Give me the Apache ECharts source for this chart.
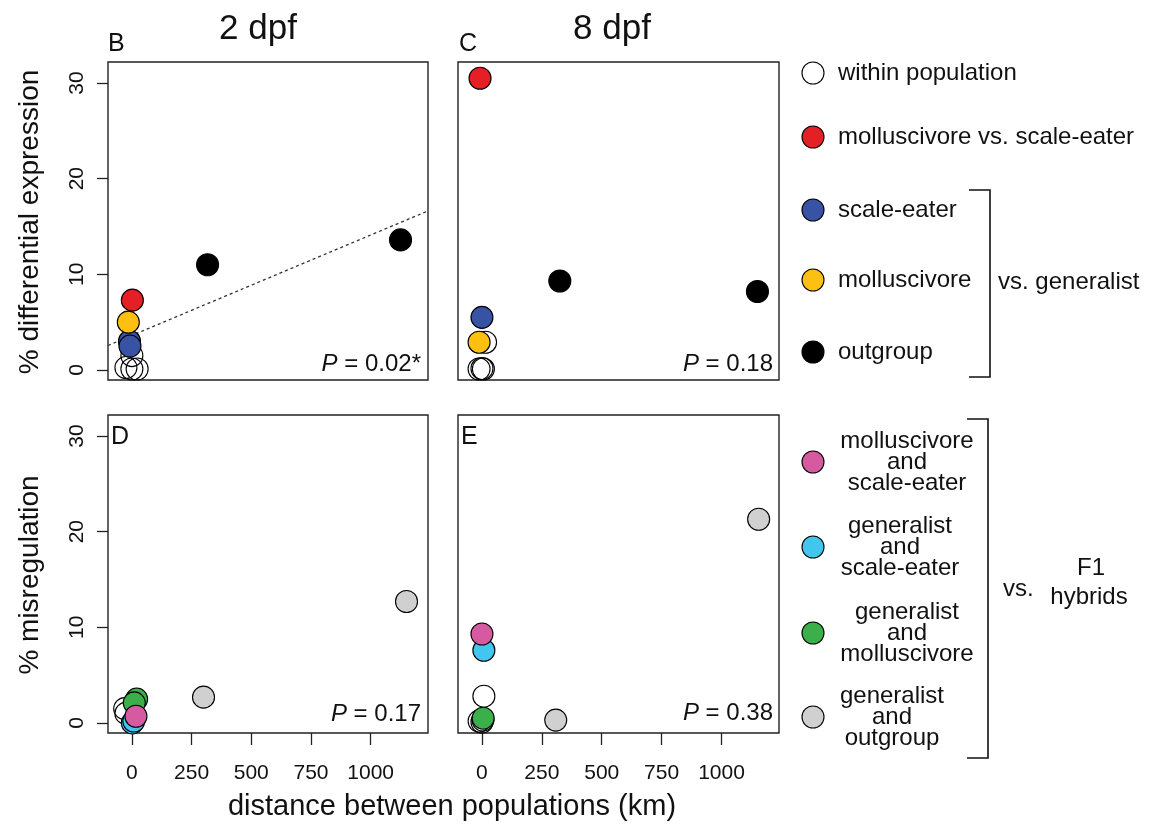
<!DOCTYPE html>
<html>
<head>
<meta charset="utf-8">
<script src="https://cdn.jsdelivr.net/npm/echarts@6/dist/echarts.min.js"></script>
<style>
  html, body { margin: 0; padding: 0; background: #fff; }
  #chart { width: 1151px; height: 832px; }
</style>
</head>
<body>
<div id="chart"></div>
<script>
// Axis ticks
const xTicks = [0, 250, 500, 750, 1000];
const yTicks = [0, 10, 20, 30];

// % differential expression, 2 dpf  [distance km, %]
const deWithin2 = [[0, 1.5], [-25, 0.25], [22, 0.1], [0, 0.1]];
const deMollScale2 = [[2, 7.3]];
const deScaleGen2 = [[-10, 3.0], [-8, 2.5]];
const deMollGen2 = [[-15, 5.0]];
const deOutGen2 = [[317, 11.0], [1125, 13.6]];
const deTrend2 = [[-100, 2.56], [1240, 16.63]];

// % differential expression, 8 dpf
const deWithin8 = [[15, 2.9], [-12, 0.1], [0, 0.15], [6, 0.1]];
const deMollScale8 = [[-8, 30.5]];
const deScaleGen8 = [[0, 5.5]];
const deMollGen8 = [[-12, 2.9]];
const deOutGen8 = [[325, 9.3], [1150, 8.2]];

// % misregulation, 2 dpf
const mrWithin2 = [[-30, 1.5], [-25, 1.0]];
const mrMollScale2 = [[17, 0.7]];
const mrGenScale2 = [[2, 0.0], [8, 0.2]];
const mrGenMoll2 = [[20, 2.5], [10, 2.1]];
const mrGenOut2 = [[300, 2.7], [1150, 12.7]];

// % misregulation, 8 dpf
const mrWithin8 = [[8, 2.8], [-12, 0.2], [0, 0.1], [4, 0.3]];
const mrMollScale8 = [[0, 9.3]];
const mrGenScale8 = [[8, 7.6]];
const mrGenMoll8 = [[5, 0.5]];
const mrGenOut8 = [[1155, 21.3], [308, 0.3]];

// Permutation test P values per panel (B, C, D, E)
const pValues = ['0.02*', '0.18', '0.17', '0.38'];

const C = {
  within: 'rgba(255,255,255,0)',
  mollScale: '#E41F26',
  scaleGen: '#3953A4',
  mollGen: '#FDC010',
  outGen: '#000000',
  hybMollScale: '#D65AA0',
  hybGenScale: '#41C6EE',
  hybGenMoll: '#3AAF4A',
  hybGenOut: '#D0D0D0'
};

const FONT = '"Liberation Sans", Arial, Helvetica, sans-serif';
const INK = '#111';

const grids = [
  { left: 108, top: 62, width: 320, height: 318 },
  { left: 458, top: 62, width: 321, height: 318 },
  { left: 108, top: 415, width: 320, height: 318 },
  { left: 458, top: 415, width: 321, height: 318 }
].map(g => Object.assign(g, {
  show: true, backgroundColor: '#fff', borderColor: '#222', borderWidth: 1.4,
  outerBoundsMode: 'none'
}));

function xAx(i, bottom) {
  return {
    type: 'value', gridIndex: i, min: -100, max: 1240, position: 'bottom',
    splitLine: { show: false }, axisLine: { show: false, onZero: false },
    axisTick: { show: bottom, inside: false, customValues: xTicks, length: 12, lineStyle: { color: '#222', width: 1.3 } },
    axisLabel: { show: bottom, customValues: xTicks, fontSize: 21, color: INK, fontFamily: FONT, margin: 30,
      formatter: v => String(v) }
  };
}
function yAx(i, left) {
  return {
    type: 'value', gridIndex: i, min: -1.05, max: 32.2, position: 'left',
    splitLine: { show: false }, axisLine: { show: false, onZero: false },
    axisTick: { show: left, inside: false, customValues: yTicks, length: 11, lineStyle: { color: '#222', width: 1.3 } },
    axisLabel: { show: left, customValues: yTicks, rotate: 90, fontSize: 21, color: INK, fontFamily: FONT, margin: 20,
      formatter: v => String(v) }
  };
}

function pts(i, data, color, name) {
  return {
    type: 'scatter', name: name, xAxisIndex: i, yAxisIndex: i, data: data,
    symbol: 'circle', symbolSize: 22, silent: true,
    itemStyle: { color: color, borderColor: '#000', borderWidth: 1.1, opacity: 1 }
  };
}

const series = [
  // B
  pts(0, deWithin2, C.within, 'within population'),
  pts(0, deScaleGen2, C.scaleGen, 'scale-eater'),
  pts(0, deMollGen2, C.mollGen, 'molluscivore'),
  pts(0, deMollScale2, C.mollScale, 'molluscivore vs. scale-eater'),
  pts(0, deOutGen2, C.outGen, 'outgroup'),
  {
    type: 'line', xAxisIndex: 0, yAxisIndex: 0, data: deTrend2, symbol: 'none', silent: true,
    lineStyle: { color: '#333', width: 1.3, type: [3, 3] }, z: 1
  },
  // C
  pts(1, deWithin8, C.within, 'within population'),
  pts(1, deMollGen8, C.mollGen, 'molluscivore'),
  pts(1, deScaleGen8, C.scaleGen, 'scale-eater'),
  pts(1, deMollScale8, C.mollScale, 'molluscivore vs. scale-eater'),
  pts(1, deOutGen8, C.outGen, 'outgroup'),
  // D
  pts(2, mrWithin2, C.within, 'within population'),
  pts(2, mrGenScale2, C.hybGenScale, 'generalist and scale-eater'),
  pts(2, mrGenMoll2, C.hybGenMoll, 'generalist and molluscivore'),
  pts(2, mrMollScale2, C.hybMollScale, 'molluscivore and scale-eater'),
  pts(2, mrGenOut2, C.hybGenOut, 'generalist and outgroup'),
  // E
  pts(3, mrWithin8, C.within, 'within population'),
  pts(3, mrGenMoll8, C.hybGenMoll, 'generalist and molluscivore'),
  pts(3, mrGenScale8, C.hybGenScale, 'generalist and scale-eater'),
  pts(3, mrMollScale8, C.hybMollScale, 'molluscivore and scale-eater'),
  pts(3, mrGenOut8, C.hybGenOut, 'generalist and outgroup')
];

function txt(x, y, text, size, opts) {
  return Object.assign({
    type: 'text', x: x, y: y, silent: true,
    style: Object.assign({ text: text, fontSize: size, fontFamily: FONT, fill: INK,
      align: 'left', verticalAlign: 'middle' }, (opts && opts.style) || {})
  }, opts && opts.rotation !== undefined ? { rotation: opts.rotation } : {});
}
function pText(x, y, val) {
  return {
    type: 'text', x: x, y: y, silent: true,
    style: {
      text: '{i|P} = ' + val, fontSize: 24, fontFamily: FONT, fill: INK,
      align: 'right', verticalAlign: 'middle',
      rich: { i: { fontStyle: 'italic', fontSize: 24, fontFamily: FONT, fill: INK } }
    }
  };
}
function dot(x, y, color) {
  return {
    type: 'circle', silent: true, shape: { cx: x, cy: y, r: 11 },
    style: { fill: color === C.within ? '#fff' : color, stroke: '#000', lineWidth: 1.1 }
  };
}
function bracket(x0, x1, y0, y1) {
  return {
    type: 'polyline', silent: true,
    shape: { points: [[x0, y0], [x1, y0], [x1, y1], [x0, y1]] },
    style: { stroke: '#111', lineWidth: 1.6, fill: null }
  };
}
function centered(x, y, text) {
  return {
    type: 'text', x: x, y: y, silent: true,
    style: { text: text, fontSize: 24, fontFamily: FONT, fill: INK, align: 'center',
      verticalAlign: 'middle', lineHeight: 21 }
  };
}

const graphic = [
  // column titles and panel letters
  txt(258, 29, '2 dpf', 35, { style: { align: 'center' } }),
  txt(612, 29, '8 dpf', 35, { style: { align: 'center' } }),
  txt(108, 44, 'B', 25),
  txt(459, 44, 'C', 25),
  txt(111, 437, 'D', 25),
  txt(461, 437, 'E', 25),
  // axis titles
  txt(30, 222, '% differential expression', 28, { rotation: Math.PI / 2, style: { align: 'center' } }),
  txt(30, 575, '% misregulation', 28, { rotation: Math.PI / 2, style: { align: 'center' } }),
  txt(452, 807, 'distance between populations (km)', 29, { style: { align: 'center' } }),
  // P values
  pText(421, 364, pValues[0]),
  pText(773, 364, pValues[1]),
  pText(421, 714, pValues[2]),
  pText(773, 713, pValues[3]),
  // legend: parental comparisons
  dot(813, 73, C.within), txt(838, 73, 'within population', 24),
  dot(813, 137, C.mollScale), txt(838, 137, 'molluscivore vs. scale-eater', 24),
  dot(813, 210, C.scaleGen), txt(838, 210, 'scale-eater', 24),
  dot(813, 280, C.mollGen), txt(838, 280, 'molluscivore', 24),
  dot(813, 352, C.outGen), txt(838, 352, 'outgroup', 24),
  bracket(969, 990, 190, 377),
  txt(998, 282, 'vs. generalist', 24),
  // legend: hybrid comparisons
  dot(813, 462, C.hybMollScale), centered(907, 462, 'molluscivore\nand\nscale-eater'),
  dot(813, 547, C.hybGenScale), centered(900, 547, 'generalist\nand\nscale-eater'),
  dot(813, 633, C.hybGenMoll), centered(907, 633, 'generalist\nand\nmolluscivore'),
  dot(813, 717, C.hybGenOut), centered(892, 717, 'generalist\nand\noutgroup'),
  bracket(967, 988, 419, 758),
  txt(1003, 589, 'vs.', 24),
  txt(1091, 568, 'F1', 24, { style: { align: 'center' } }),
  txt(1089, 597, 'hybrids', 24, { style: { align: 'center' } })
];

const chart = echarts.init(document.getElementById('chart'), null, { renderer: 'canvas' });
chart.setOption({
  animation: false,
  backgroundColor: '#fff',
  textStyle: { fontFamily: FONT },
  grid: grids,
  xAxis: [xAx(0, false), xAx(1, false), xAx(2, true), xAx(3, true)],
  yAxis: [yAx(0, true), yAx(1, false), yAx(2, true), yAx(3, false)],
  series: series,
  graphic: graphic
});
</script>
</body>
</html>
